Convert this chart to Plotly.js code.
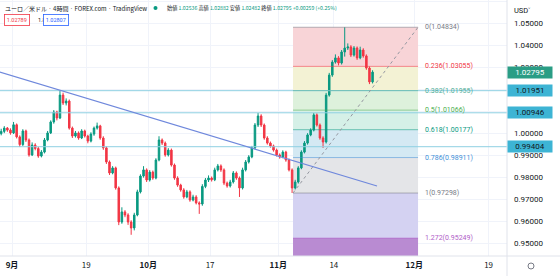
<!DOCTYPE html>
<html><head><meta charset="utf-8">
<script src="https://cdn.plot.ly/plotly-3.0.1.min.js"></script>
<style>html,body{margin:0;padding:0;background:#fff}#c{width:560px;height:276px}</style>
</head><body><div id="c"></div>
<script>
// 12-hour OHLC bars (EUR/USD, 2022-08-30 .. 2022-11-22)
const opens = [1.0000,1.0010,1.0025,1.0016,1.0003,1.0040,0.9985,0.9950,1.0012,0.9971,
0.9903,0.9948,0.9932,0.9898,0.9916,0.9971,1.0003,1.0053,1.0098,1.0071,
1.0175,1.0139,1.0148,1.0025,0.9989,1.0003,0.9980,1.0012,0.9989,0.9966,
0.9998,1.0025,1.0035,0.9980,0.9935,0.9871,0.9821,0.9844,0.9753,0.9598,
0.9644,0.9630,0.9598,0.9571,0.9630,0.9735,0.9807,0.9835,0.9789,0.9825,
0.9798,0.9880,0.9971,0.9957,0.9903,0.9925,0.9857,0.9798,0.9766,0.9744,
0.9712,0.9735,0.9698,0.9712,0.9685,0.9680,0.9760,0.9789,0.9798,0.9790,
0.9835,0.9853,0.9835,0.9775,0.9762,0.9780,0.9821,0.9798,0.9753,0.9835,
0.9871,0.9894,0.9935,1.0039,1.0080,1.0039,0.9980,0.9957,0.9944,0.9925,
0.9903,0.9894,0.9916,0.9880,0.9835,0.9753,0.9780,0.9844,0.9916,0.9957,
0.9994,1.0016,1.0085,1.0039,0.9980,0.9962,1.0175,1.0266,1.0325,1.0344,
1.0321,1.0371,1.0389,1.0394,1.0357,1.0389,1.0344,1.0380,1.0353,1.0298,
1.0235];
const highs = [1.0022,1.0034,1.0030,1.0024,1.0053,1.0046,0.9992,1.0020,1.0018,0.9978,
0.9960,0.9956,0.9940,0.9925,0.9980,1.0012,1.0060,1.0107,1.0104,1.0198,
1.0186,1.0160,1.0155,1.0032,1.0012,1.0010,1.0020,1.0018,0.9995,1.0006,
1.0032,1.0050,1.0040,0.9988,0.9942,0.9878,0.9852,0.9850,0.9760,0.9665,
0.9652,0.9638,0.9606,0.9640,0.9745,0.9815,0.9852,0.9842,0.9834,0.9832,
0.9888,0.9988,0.9978,0.9964,0.9934,0.9932,0.9864,0.9806,0.9772,0.9752,
0.9744,0.9742,0.9722,0.9720,0.9692,0.9770,0.9798,0.9810,0.9805,0.9845,
0.9862,0.9860,0.9842,0.9782,0.9790,0.9830,0.9828,0.9805,0.9845,0.9880,
0.9902,0.9944,1.0048,1.0094,1.0088,1.0046,0.9988,0.9964,0.9950,0.9932,
0.9910,0.9924,0.9922,0.9887,0.9842,0.9790,0.9852,0.9924,0.9966,1.0002,
1.0024,1.0094,1.0092,1.0046,0.9988,1.0185,1.0276,1.0334,1.0360,1.0352,
1.0380,1.04834,1.0410,1.0402,1.0398,1.0396,1.0395,1.0388,1.0360,1.0305,
1.0288];
const lows = [0.9992,1.0002,1.0008,0.9995,0.9998,0.9978,0.9939,0.9944,0.9962,0.9895,
0.9898,0.9924,0.9890,0.9892,0.9910,0.9965,0.9998,1.0045,1.0060,1.0066,
1.0130,1.0128,1.0018,0.9980,0.9982,0.9972,0.9975,0.9982,0.9956,0.9960,
0.9990,1.0018,0.9972,0.9926,0.9862,0.9812,0.9815,0.9745,0.9584,0.9590,
0.9620,0.9585,0.9540,0.9560,0.9624,0.9728,0.9800,0.9780,0.9782,0.9790,
0.9792,0.9874,0.9948,0.9895,0.9896,0.9850,0.9790,0.9758,0.9736,0.9704,
0.9706,0.9690,0.9692,0.9678,0.9635,0.9672,0.9752,0.9780,0.9782,0.9784,
0.9828,0.9826,0.9766,0.9754,0.9755,0.9773,0.9790,0.9712,0.9746,0.9828,
0.9864,0.9888,0.9928,1.0030,1.0030,0.9972,0.9950,0.9936,0.9918,0.9896,
0.9886,0.9888,0.9872,0.9828,0.9730,0.9746,0.9773,0.9838,0.9910,0.9950,
0.9988,1.0010,1.0032,0.9972,0.9935,0.9955,1.0168,1.0258,1.0318,1.0310,
1.0314,1.0350,1.0380,1.0348,1.0350,1.0335,1.0338,1.0345,1.0290,1.0225,
1.0228];
const closes = [1.0010,1.0025,1.0016,1.0003,1.0040,0.9985,0.9950,1.0012,0.9971,0.9903,
0.9948,0.9932,0.9898,0.9916,0.9971,1.0003,1.0053,1.0098,1.0071,1.0175,
1.0139,1.0148,1.0025,0.9989,1.0003,0.9980,1.0012,0.9989,0.9966,0.9998,
1.0025,1.0035,0.9980,0.9935,0.9871,0.9821,0.9844,0.9753,0.9598,0.9644,
0.9630,0.9598,0.9571,0.9630,0.9735,0.9807,0.9835,0.9789,0.9825,0.9798,
0.9880,0.9971,0.9957,0.9903,0.9925,0.9857,0.9798,0.9766,0.9744,0.9712,
0.9735,0.9698,0.9712,0.9685,0.9680,0.9760,0.9789,0.9798,0.9790,0.9835,
0.9853,0.9835,0.9775,0.9762,0.9780,0.9821,0.9798,0.9753,0.9835,0.9871,
0.9894,0.9935,1.0039,1.0080,1.0039,0.9980,0.9957,0.9944,0.9925,0.9903,
0.9894,0.9916,0.9880,0.9835,0.9753,0.9780,0.9844,0.9916,0.9957,0.9994,
1.0016,1.0085,1.0039,0.9980,0.9962,1.0175,1.0266,1.0325,1.0344,1.0321,
1.0371,1.0389,1.0394,1.0357,1.0389,1.0344,1.0380,1.0353,1.0298,1.0235,
1.02795];

// Fibonacci retracement (low 0.97298 -> high 1.04834)
const fibRatios = ['0','0.236','0.382','0.5','0.618','0.786','1','1.272'];
const fibPrices = [1.04834,1.03055,1.01955,1.01066,1.00177,0.98911,0.97298,0.95249];
const fibNext = 0.92641; // 1.618 level, bottom of last zone
const fibColors = ['#787b86','#f23645','#4fae98','#4caf50','#089981','#3f8fd8','#787b86','#b05cc8'];
const fibFills = ['#f8d4d7','#f3f2d4','#ddf1dc','#d5f0e7','#d4e9f3','#e4e5e8','#d4d2f2','#b98bd2'];
const fibStart = '2022-11-03 09:36', fibEnd = '2022-12-01 14:24';

// Horizontal levels
const hLevels = [1.01951,1.00946,0.99404];
const lastPrice = 1.02795;

// Trend line
const trendX = ['2022-08-29 00:00','2022-11-22 23:15'];
const trendY = [1.0289,0.97618];

// Axis ticks
const xTickVals = ['2022-09-01','2022-09-19','2022-10-03','2022-10-17','2022-11-01','2022-11-14','2022-12-01','2022-12-19'];
const xTickText = ['<b>9月</b>','19','<b>10月</b>','17','<b>11月</b>','14','<b>12月</b>','19'];

function barTimes(n){
  const out=[]; const d=new Date(Date.UTC(2022,7,30));
  while(out.length<n){
    const wd=d.getUTCDay();
    if(wd!==0&&wd!==6){
      const s=d.toISOString().slice(0,10);
      out.push(s+' 06:00'); if(out.length<n) out.push(s+' 18:00');
    }
    d.setUTCDate(d.getUTCDate()+1);
  }
  return out;
}
const times = barTimes(closes.length);

const W=507, H=256;
const px = x => x/W, py = y => 1 - y/H;
const NUM = 'Roboto, "Noto Sans", sans-serif';
const JP = '"Noto Sans CJK JP", "Noto Sans", sans-serif';

const shapes = [];
for(let i=0;i<fibPrices.length;i++){
  shapes.push({type:'rect',xref:'x',yref:'y',x0:fibStart,x1:fibEnd,y0:fibPrices[i],y1:(i+1<fibPrices.length?fibPrices[i+1]:fibNext),
    fillcolor:fibFills[i],line:{width:0},layer:'between'});
}
hLevels.forEach(v=>shapes.push({type:'line',xref:'paper',yref:'y',x0:0,x1:1,y0:v,y1:v,line:{color:'#8fd0e2',width:1},layer:'above'}));
for(let i=0;i<fibPrices.length;i++){
  shapes.push({type:'line',xref:'x',yref:'y',x0:fibStart,x1:fibEnd,y0:fibPrices[i],y1:fibPrices[i],line:{color:fibColors[i],width:1},opacity:0.55,layer:'above'});
}
shapes.push({type:'line',xref:'x',yref:'y',x0:fibStart,x1:fibEnd,y0:fibPrices[6],y1:fibPrices[0],line:{color:'#9598a1',width:1,dash:'dot'},layer:'above'});
shapes.push({type:'line',xref:'x',yref:'y',x0:trendX[0],x1:trendX[1],y0:trendY[0],y1:trendY[1],line:{color:'#6f88dc',width:1.2},layer:'above'});
shapes.push({type:'line',xref:'paper',yref:'paper',x0:0,x1:560/W,y0:0,y1:0,line:{color:'#e0e3eb',width:1}});
shapes.push({type:'line',xref:'paper',yref:'paper',x0:1,x1:1,y0:-20/H,y1:1,line:{color:'#e0e3eb',width:1}});
shapes.push({type:'circle',xref:'paper',yref:'paper',x0:px(153.5),x1:px(157.5),y0:py(10),y1:py(6),fillcolor:'#089981',line:{width:0}});
shapes.push({type:'circle',xref:'paper',yref:'paper',x0:px(528),x1:px(534),y0:py(269),y1:py(263),line:{color:'#787b86',width:1}});

const ann = [];
for(let i=0;i<fibPrices.length;i++){
  ann.push({xref:'x',yref:'y',x:fibEnd,y:fibPrices[i],xanchor:'left',yanchor:'middle',xshift:5,showarrow:false,
    text:fibRatios[i]+'('+fibPrices[i].toFixed(5)+')',font:{family:NUM,size:7,color:fibColors[i]}});
}
function priceBox(v,bg,fg){
  ann.push({xref:'paper',yref:'y',x:1,y:v,xanchor:'left',yanchor:'middle',showarrow:false,text:v.toFixed(5),
    bgcolor:bg,font:{family:NUM,size:8,color:fg},width:42,height:9,borderpad:1});
}
priceBox(lastPrice,'#2a9d85','#ffffff');
hLevels.forEach(v=>priceBox(v,'#3db4d4','#131722'));
ann.push({xref:'paper',yref:'paper',x:px(512),y:py(10),xanchor:'left',yanchor:'middle',showarrow:false,text:'USD˅',font:{family:NUM,size:7.5,color:'#131722'}});
ann.push({xref:'paper',yref:'paper',x:px(3),y:py(8),xanchor:'left',yanchor:'middle',showarrow:false,
  text:'ユーロ／米ドル · 4時間 · FOREX.com · TradingView',font:{family:JP,size:6,color:'#131722'}});
const g = s=>'<span style="color:#089981">'+s+'</span>';
ann.push({xref:'paper',yref:'paper',x:px(165),y:py(8),xanchor:'left',yanchor:'middle',showarrow:false,
  text:'始値 '+g('1.02536')+' 高値 '+g('1.02882')+' 安値 '+g('1.02482')+' 終値 '+g('1.02795')+' '+g('+0.00259 (+0.25%)'),
  font:{family:JP,size:5.2,color:'#131722'}});
ann.push({xref:'paper',yref:'paper',x:px(4),y:py(20),xanchor:'left',yanchor:'middle',showarrow:false,text:'1.02789',
  font:{family:NUM,size:5.5,color:'#f23645'},bordercolor:'#f23645',borderwidth:0.8,borderpad:2,bgcolor:'#ffffff'});
ann.push({xref:'paper',yref:'paper',x:px(36),y:py(20),xanchor:'left',yanchor:'middle',showarrow:false,text:'1.8',
  font:{family:NUM,size:5.5,color:'#131722'}});
ann.push({xref:'paper',yref:'paper',x:px(43),y:py(20),xanchor:'left',yanchor:'middle',showarrow:false,text:'1.02807',
  font:{family:NUM,size:5.5,color:'#2962ff'},bordercolor:'#2962ff',borderwidth:0.8,borderpad:2,bgcolor:'#ffffff'});

const trace = {type:'candlestick',x:times,open:opens,high:highs,low:lows,close:closes,
  increasing:{line:{color:'#089981',width:1},fillcolor:'#089981'},
  decreasing:{line:{color:'#f23645',width:1},fillcolor:'#f23645'},
  whiskerwidth:0,hoverinfo:'skip'};

const layout = {
  width:560,height:276,margin:{l:0,r:53,t:0,b:20},
  paper_bgcolor:'#ffffff',plot_bgcolor:'#ffffff',showlegend:false,
  xaxis:{type:'date',range:['2022-08-30 01:26','2022-12-21 23:17'],rangebreaks:[{bounds:['sat','mon']}],
    tickmode:'array',tickvals:xTickVals,ticktext:xTickText,tickfont:{family:JP,size:8,color:'#131722'},
    showgrid:true,gridcolor:'#f0f3fa',showline:false,ticks:'',ticklabelstandoff:3,rangeslider:{visible:false},fixedrange:true},
  yaxis:{side:'right',range:[0.94436,1.06073],tick0:0.95,dtick:0.01,tickformat:'.5f',
    tickfont:{family:NUM,size:8,color:'#131722'},showgrid:true,gridcolor:'#f0f3fa',zeroline:false,
    showline:false,ticks:'',ticklabelstandoff:6,fixedrange:true},
  shapes:shapes,annotations:ann
};
Plotly.newPlot('c',[trace],layout,{displayModeBar:false,staticPlot:true});
</script></body></html>
